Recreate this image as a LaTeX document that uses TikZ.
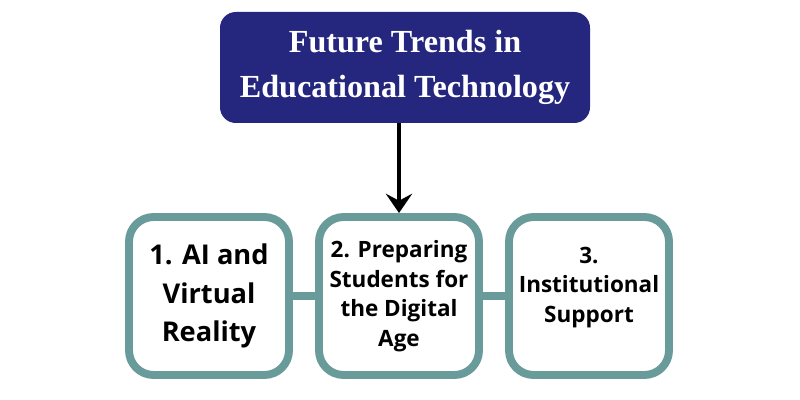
\documentclass[tikz,border=0pt]{standalone}
\usepackage{fontspec}
\setsansfont{Open Sans}
\newfontfamily\titlefont{Liberation Serif}
\usepackage{tikz}
\usetikzlibrary{arrows.meta}

\definecolor{titleblue}{HTML}{25267D}
\definecolor{trendteal}{HTML}{689B9A}

\tikzset{
  titlebox/.style={fill=titleblue, rounded corners=9pt, text=white, align=center,
    minimum width=7.4cm, minimum height=2.22cm,
    font=\titlefont\bfseries\fontsize{18.3}{25.5}\selectfont},
  trendbox/.style={draw=trendteal, line width=4.5pt, fill=white, rounded corners=14pt,
    align=center, minimum width=3.2cm, minimum height=3.16cm, inner sep=2pt},
  bigtext/.style={font=\sffamily\bfseries\fontsize{15.5}{21.8}\selectfont},
  smalltext/.style={font=\sffamily\bfseries\fontsize{12.8}{16.8}\selectfont},
  link/.style={trendteal, line width=4.5pt},
}

\begin{document}
\begin{tikzpicture}
\useasboundingbox (0,0) rectangle (16,8);
\node[titlebox] (title) at (8.1,6.65) {Future Trends in\\Educational Technology};
\node[trendbox, bigtext] (ai) at (4.18,2.08) {1. AI and\\Virtual\\Reality};
\node[trendbox, smalltext] (prep) at (7.98,2.08) {2. Preparing\\Students for\\the Digital\\Age};
\node[trendbox, smalltext, text depth=0.45cm] (inst) at (11.78,2.08) {3.\\Institutional\\Support};
\draw[link] (ai.east) -- (prep.west);
\draw[link] (prep.east) -- (inst.west);
\draw[-{Stealth[length=11pt, width=15pt, inset=4pt]}, line width=2.2pt] (title.south -| prep.north) -- (prep.north);
\end{tikzpicture}
\end{document}
